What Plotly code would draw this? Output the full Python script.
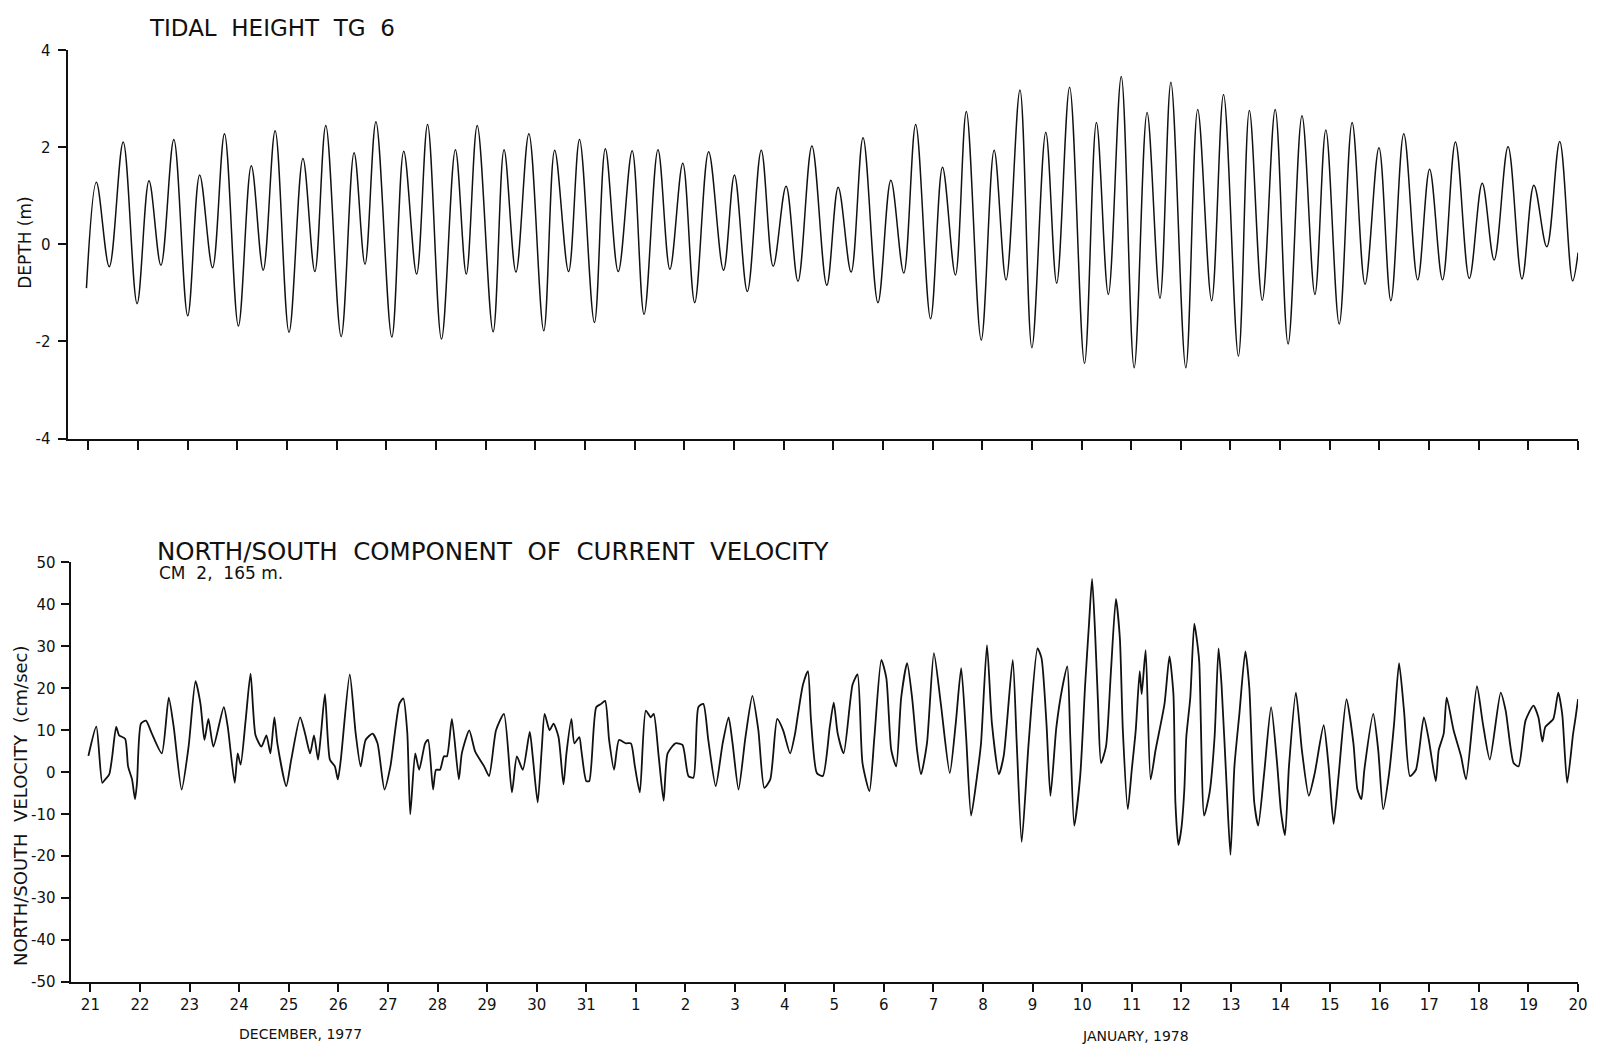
import plotly.graph_objects as go

# Time axis: days since 21 December 1977, 00:00
day_labels = [str(d) for d in range(21, 32)] + [str(d) for d in range(1, 21)]

# Tidal height at TG 6 (m) - turning points of the record
tide_t = [
    -0.04, 0.16, 0.42, 0.70, 0.98, 1.22, 1.46, 1.72, 2.00, 2.24, 2.50, 2.74, 3.02, 3.28,
    3.52, 3.76, 4.04, 4.32, 4.56, 4.78, 5.09, 5.35, 5.57, 5.79, 6.11, 6.35, 6.61, 6.83,
    7.11, 7.39, 7.61, 7.83, 8.15, 8.37, 8.61, 8.87, 9.17, 9.39, 9.67, 9.89, 10.19, 10.41,
    10.67, 10.95, 11.19, 11.47, 11.71, 11.97, 12.21, 12.49, 12.79, 13.01, 13.27, 13.55,
    13.79, 14.05, 14.29, 14.57, 14.87, 15.10, 15.36, 15.60, 15.90, 16.16, 16.42, 16.66,
    16.96, 17.20, 17.46, 17.68, 17.98, 18.24, 18.48, 18.76, 19.00, 19.28, 19.50, 19.76,
    20.06, 20.30, 20.54, 20.80, 21.06, 21.32, 21.58, 21.80, 22.10, 22.34, 22.62, 22.86,
    23.16, 23.38, 23.64, 23.90, 24.16, 24.44, 24.70, 24.92, 25.19, 25.45, 25.71, 25.99,
    26.23, 26.49, 26.77, 27.01, 27.27, 27.53, 27.81, 28.07, 28.31, 28.59, 28.87, 29.11,
    29.37, 29.63, 29.89, 30.00,
]
tide_h = [
    -0.90, 1.28, -0.46, 2.11, -1.22, 1.31, -0.43, 2.16, -1.47, 1.43, -0.48, 2.28, -1.68, 1.62,
    -0.53, 2.34, -1.81, 1.77, -0.56, 2.45, -1.90, 1.89, -0.41, 2.53, -1.91, 1.92, -0.61, 2.47,
    -1.95, 1.95, -0.61, 2.45, -1.80, 1.95, -0.57, 2.28, -1.78, 1.94, -0.56, 2.16, -1.61, 1.97,
    -0.56, 1.93, -1.44, 1.95, -0.51, 1.67, -1.20, 1.91, -0.53, 1.43, -0.97, 1.94,
    -0.45, 1.20, -0.76, 2.03, -0.84, 1.18, -0.57, 2.20, -1.20, 1.32, -0.59, 2.47,
    -1.53, 1.59, -0.63, 2.74, -1.97, 1.94, -0.73, 3.18, -2.13, 2.31, -0.80, 3.24,
    -2.45, 2.51, -1.03, 3.46, -2.54, 2.72, -1.11, 3.34, -2.54, 2.78, -1.16, 3.09,
    -2.30, 2.76, -1.15, 2.78, -2.05, 2.65, -1.03, 2.36, -1.64, 2.51, -0.82, 1.99,
    -1.16, 2.28, -0.73, 1.55, -0.73, 2.11, -0.70, 1.26, -0.32, 2.01, -0.71, 1.22,
    -0.05, 2.12, -0.75, -0.17,
]

# North/south current velocity at CM 2, 165 m (cm/sec)
vel_t = [
    -0.04, 0.12, 0.24, 0.30, 0.38, 0.44, 0.52, 0.58, 0.70, 0.76, 0.84, 0.90, 0.94, 1.02,
    1.12, 1.24, 1.44, 1.58, 1.68, 1.84, 1.98, 2.12, 2.22, 2.30, 2.38, 2.48, 2.69, 2.77,
    2.91, 2.97, 3.03, 3.13, 3.23, 3.33, 3.45, 3.55, 3.63, 3.71, 3.77, 3.95, 4.05, 4.23,
    4.33, 4.43, 4.51, 4.59, 4.65, 4.73, 4.83, 4.93, 4.99, 5.05, 5.23, 5.35, 5.45, 5.55,
    5.69, 5.79, 5.93, 6.05, 6.23, 6.31, 6.39, 6.45, 6.55, 6.63, 6.75, 6.81, 6.91, 6.97,
    7.05, 7.13, 7.19, 7.29, 7.43, 7.49, 7.64, 7.76, 7.94, 8.04, 8.18, 8.34, 8.50, 8.60,
    8.72, 8.86, 8.92, 9.02, 9.10, 9.16, 9.26, 9.34, 9.44, 9.54, 9.60, 9.70, 9.76, 9.86,
    9.90, 10.00, 10.06, 10.20, 10.30, 10.38, 10.46, 10.56, 10.66, 10.80, 10.90, 10.98,
    11.08, 11.20, 11.30, 11.36, 11.46, 11.56, 11.64, 11.80, 11.94, 12.06, 12.16, 12.26,
    12.36, 12.46, 12.61, 12.75, 12.87, 12.95, 13.07, 13.21, 13.35, 13.47, 13.59, 13.71,
    13.85, 13.97, 14.11, 14.21, 14.27, 14.37, 14.47, 14.53, 14.65, 14.77, 14.91, 14.99,
    15.07, 15.19, 15.37, 15.47, 15.57, 15.71, 15.81, 15.95, 16.05, 16.15, 16.25, 16.35,
    16.47, 16.57, 16.67, 16.75, 16.87, 17.01, 17.15, 17.33, 17.45, 17.56, 17.66, 17.76,
    17.88, 17.96, 18.08, 18.18, 18.32, 18.42, 18.60, 18.68, 18.78, 18.92, 19.10, 19.18,
    19.28, 19.36, 19.48, 19.60, 19.70, 19.76, 19.84, 19.96, 20.06, 20.14, 20.20, 20.26,
    20.32, 20.38, 20.48, 20.58, 20.68, 20.76, 20.82, 20.92, 21.00, 21.08, 21.16, 21.20,
    21.28, 21.38, 21.48, 21.66, 21.76, 21.84, 21.88, 21.94, 22.00, 22.06, 22.10, 22.18,
    22.26, 22.30, 22.36, 22.46, 22.57, 22.67, 22.75, 22.81, 22.91, 22.99, 23.07, 23.17,
    23.29, 23.37, 23.47, 23.55, 23.67, 23.81, 23.93, 24.01, 24.09, 24.17, 24.31, 24.43,
    24.57, 24.69, 24.87, 24.97, 25.07, 25.17, 25.33, 25.47, 25.55, 25.63, 25.69, 25.87,
    25.97, 26.07, 26.19, 26.29, 26.39, 26.49, 26.61, 26.73, 26.89, 26.99, 27.13, 27.19,
    27.29, 27.35, 27.49, 27.64, 27.74, 27.96, 28.08, 28.22, 28.44, 28.54, 28.70, 28.80,
    28.94, 29.10, 29.20, 29.28, 29.34, 29.50, 29.60, 29.68, 29.78, 29.90, 29.95, 30.00,
]
vel_v = [
    3.9, 10.9, -2.5, -1.7, -0.5, 3.8, 10.8, 8.8, 8.0, 1.4, -1.7, -6.4, -2.5, 11.6,
    12.3, 9.2, 4.5, 17.8, 10.8, -4.1, 6.1, 21.7, 16.3, 7.7, 12.7, 6.1, 15.5, 10.8,
    -2.5, 4.5, 1.8, 12.3, 23.5, 8.8, 6.1, 8.8, 4.5, 13.1, 6.9, -3.3, 3.0, 13.1,
    9.2, 4.5, 8.8, 3.0, 9.2, 18.6, 3.0, 1.4, -1.7, 3.0, 23.3, 9.2, 1.4, 7.7,
    9.2, 6.9, -4.1, 1.4, 16.3, 17.6, 9.5, -10.0, 4.5, 0.6, 6.9, 7.7, -4.1, 0.6,
    0.6, 3.8, 3.8, 12.7, -1.7, 4.5, 10.0, 4.9, 1.4, -0.9, 10.0, 13.9, -4.8, 3.8,
    0.6, 9.6, 3.8, -7.2, 5.3, 13.9, 10.0, 11.6, 8.4, -2.9, 4.5, 12.7, 6.9, 8.4,
    5.3, -2.1, -2.1, 15.5, 16.3, 17.0, 7.7, 0.6, 7.7, 6.9, 6.9, 1.4,
    -4.8, 14.7, 13.1, 13.9, 3.8, -6.8, 4.5, 6.9, 6.5, -0.9, -1.3, 15.5,
    16.3, 7.7, -3.3, 6.9, 13.1, 6.9, -4.1, 8.4, 18.2, 10.0, -3.7, -1.7,
    12.7, 10.0, 4.5, 9.2, 13.9, 20.9, 24.1, 12.7, -0.2, -0.9, 10.8, 16.6,
    9.2, 4.5, 20.9, 23.3, 2.2, -4.5, 8.4, 26.8, 22.5, 5.3, 1.4, 17.8,
    26.0, 17.8, 5.3, -0.5, 6.9, 28.4, 16.3, -0.2, 11.6, 24.8, 8.4, -10.3,
    -0.9, 6.9, 30.3, 11.6, -0.5, 4.1, 26.8, 6.9, -16.6, 6.9, 29.5, 27.2,
    11.6, -5.6, 10.8, 20.2, 25.2, 8.4, -12.7, -0.9, 20.9, 35.8, 46.1, 33.4,
    16.3, 2.2, 6.1, 24.1, 41.3, 31.9, 10.0, -8.8, 0.6, 10.0, 24.1, 18.6,
    29.1, -1.7, 5.3, 16.3, 27.6, 18.6, -7.2, -17.3, -13.4, -4.1, 8.4, 17.8,
    35.4, 32.7, 26.4, -10.3, -4.8, 8.4, 29.5, 20.9, -2.5, -19.7, 1.4, 13.9,
    28.8, 20.2, -7.2, -12.7, -0.2, 15.5, 2.2, -9.5, -15.0, 1.4, 19.0, 5.3,
    -5.6, -0.2, 11.2, 1.4, -12.3, -0.9, 17.4, 6.9, -4.1, -6.4, 0.6, 13.9,
    5.3, -8.8, -0.2, 11.6, 26.0, 14.7, -0.9, 0.6, 13.1, 7.7, -2.1, 5.3,
    9.2, 17.8, 10.0, 3.8, -1.7, 20.5, 11.6, 3.0, 19.0, 14.7, 2.2, 1.4,
    12.3, 15.9, 13.1, 7.3, 10.8, 12.7, 19.0, 13.9, -2.5, 9.2, 13.1, 17.4,
]

depth_ticks = [-4, -2, 0, 2, 4]
vel_ticks = list(range(-50, 51, 10))

W, H = 1600, 1057
FONT = "DejaVu Sans"
INK = "#111111"


def px_x(p):
    return p / W


def px_y(p):
    return 1 - p / H


fig = go.Figure()
fig.add_trace(go.Scatter(
    x=tide_t, y=tide_h, mode="lines", xaxis="x", yaxis="y",
    line=dict(color=INK, width=1.5, shape="spline", smoothing=1.0),
    showlegend=False, hoverinfo="skip",
))
fig.add_trace(go.Scatter(
    x=vel_t, y=vel_v, mode="lines", xaxis="x2", yaxis="y2",
    line=dict(color=INK, width=1.8, shape="spline", smoothing=0.6),
    showlegend=False, hoverinfo="skip",
))

axis_common = dict(
    showline=True, linecolor=INK, linewidth=2, showgrid=False, zeroline=False,
    ticks="outside", tickcolor=INK, tickwidth=1.5,
    tickfont=dict(family=FONT, size=15, color=INK),
)

fig.update_layout(
    width=W, height=H,
    margin=dict(l=0, r=0, t=0, b=0),
    paper_bgcolor="white", plot_bgcolor="white",
    xaxis=dict(
        axis_common, domain=[px_x(68), px_x(1588)], range=[-0.42, 30.0],
        tickvals=list(range(31)), showticklabels=False, ticklen=9, anchor="y",
    ),
    yaxis=dict(
        axis_common, domain=[px_y(437), px_y(42)], range=[-4, 4],
        tickvals=depth_ticks, ticktext=[str(v) for v in depth_ticks],
        ticklen=8, ticklabelstandoff=4, anchor="x",
    ),
    xaxis2=dict(
        axis_common, domain=[px_x(71), px_x(1588)], range=[-0.40, 30.0],
        tickvals=list(range(31)), ticktext=day_labels, ticklen=8, anchor="y2",
    ),
    yaxis2=dict(
        axis_common, domain=[px_y(990), px_y(563)], range=[-50, 50],
        tickvals=vel_ticks, ticktext=[str(v) for v in vel_ticks],
        ticklen=8, ticklabelstandoff=2, anchor="x2",
    ),
)


def label(text, x, y, size, angle=0, xanchor="center"):
    fig.add_annotation(
        text=text, x=px_x(x), y=px_y(y), xref="paper", yref="paper",
        showarrow=False, textangle=angle, xanchor=xanchor, yanchor="middle",
        font=dict(family=FONT, size=size, color=INK),
    )


label("TIDAL  HEIGHT  TG  6", 148, 19, 23, xanchor="left")
label("DEPTH (m)", 25, 238, 17, angle=-90)
label("NORTH/SOUTH  COMPONENT  OF  CURRENT  VELOCITY", 156, 552, 24.5, xanchor="left")
label("CM  2,  165 m.", 158, 574, 17, xanchor="left")
label("NORTH/SOUTH  VELOCITY  (cm/sec)", 20, 810, 18, angle=-90)
label("DECEMBER, 1977", 302, 1043, 14)
label("JANUARY, 1978", 1143, 1045, 14)

fig.write_html("out.html")
